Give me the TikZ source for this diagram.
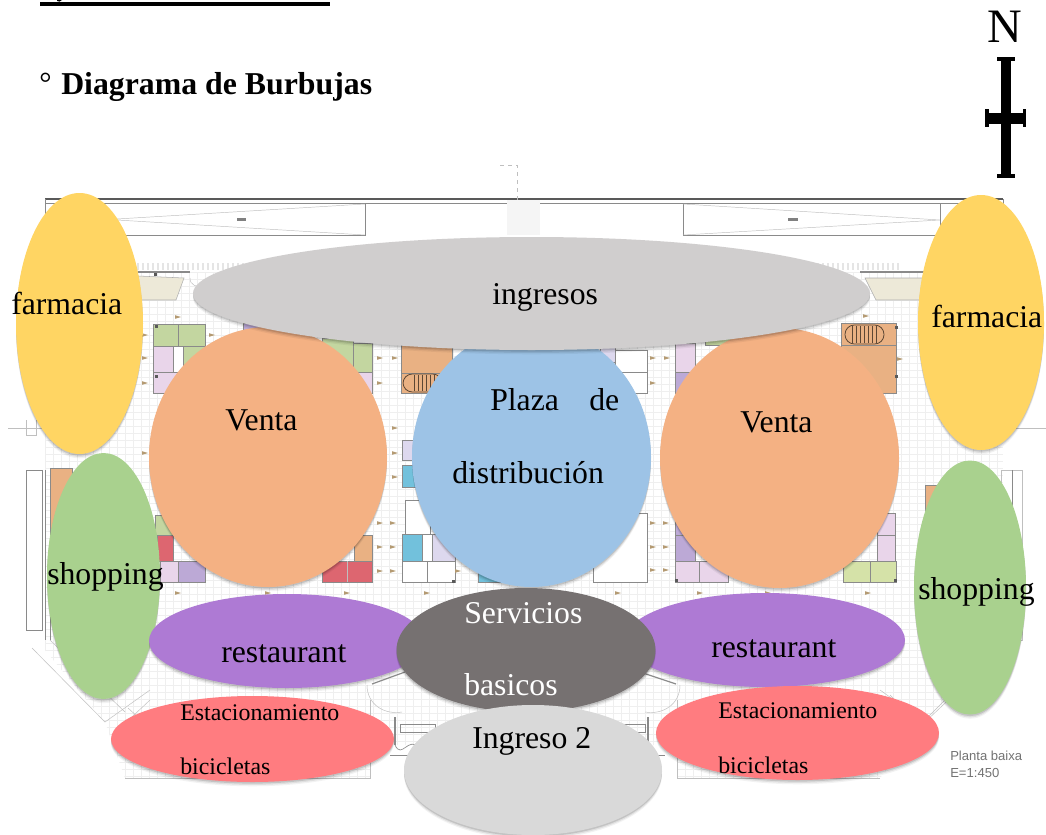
\documentclass[tikz,border=0pt]{standalone}
\usepackage{fontspec}
\setmainfont{Liberation Serif}
\newfontfamily\plansans{Liberation Sans}
\usetikzlibrary{shapes.geometric,shadows}
\definecolor{cYellow}{HTML}{FFD563}
\definecolor{cOrange}{HTML}{F4B183}
\definecolor{cBlue}{HTML}{9DC3E6}
\definecolor{cIngresos}{HTML}{D0CECE}
\definecolor{cGreen}{HTML}{A9D18E}
\definecolor{cPurple}{HTML}{AE7AD4}
\definecolor{cDark}{HTML}{767171}
\definecolor{cRed}{HTML}{FF7C80}
\definecolor{cLight}{HTML}{D9D9D9}
\definecolor{pGreen}{HTML}{C3D6A0}
\definecolor{pLime}{HTML}{D5E2A8}
\definecolor{pPink}{HTML}{E9D5EA}
\definecolor{pLilac}{HTML}{BCA9D6}
\definecolor{pPale}{HTML}{DDD8EE}
\definecolor{pRed}{HTML}{DD6670}
\definecolor{pOrange}{HTML}{E9B183}
\definecolor{pTeal}{HTML}{72C1DC}
\definecolor{pBeige}{HTML}{EDE9D8}
\definecolor{pWall}{HTML}{8A8A8A}
\definecolor{pGrid}{HTML}{EFEFEF}
\definecolor{pMark}{HTML}{B49A72}
\tikzset{
  x=0.75pt,y=-0.75pt,
  bubble/.style={ellipse,inner sep=0pt,draw=none,
    general shadow={shadow yshift=-3.2pt,fill=black,opacity=.05},
    general shadow={shadow yshift=-2.2pt,fill=black,opacity=.08},
    general shadow={shadow yshift=-1.2pt,fill=black,opacity=.12}},
  big/.style={anchor=base west,inner sep=0pt,font=\fontsize{23.8pt}{24pt}\selectfont},
  small/.style={anchor=base west,inner sep=0pt,font=\fontsize{17.9pt}{18pt}\selectfont},
  wall/.style={draw=pWall,line width=.5pt},
  fine/.style={draw=pWall!55,line width=.35pt},
  cell/.style={draw=pWall,line width=.6pt},
  planlabel/.style={anchor=base west,inner sep=0pt,text=black!55,font=\plansans\fontsize{9.8pt}{10pt}\selectfont}
}
\begin{document}
\begin{tikzpicture}
\useasboundingbox (0,0) rectangle (1046,835);
\clip (0,0) rectangle (1046,835);
\fill[white] (0,0) rectangle (1046,835);
% ---------- faint floor plan ----------
\begin{scope}
\clip (45,272) -- (1003,272) -- (1003,640) -- (925,722) -- (880,778) -- (677,778) -- (677,745) -- (370,745) -- (370,778) -- (125,778) -- (105,722) -- (45,650) -- cycle;
\foreach \gx in {45,53,...,1003} \draw[pGrid,line width=.25pt] (\gx,272) -- (\gx,778);
\foreach \gy in {272,279,...,778} \draw[pGrid,line width=.25pt] (45,\gy) -- (1003,\gy);
\end{scope}
% top wall and ramps
\draw[black!65,line width=.9pt] (45,199) -- (1003,199);
\draw[wall] (45,203) -- (1003,203);
\draw[wall] (45,199) -- (45,235) -- (365,235) -- (365,204);
\draw[fine] (365,204) -- (117,219) (117,220) -- (365,235);
\draw[wall] (683,203) -- (683,235) -- (1003,235) -- (1003,199);
\draw[wall] (940,204) -- (940,235);
\draw[fine] (683,204) -- (940,220) -- (683,235);
\fill[black!50] (237,217.5) rectangle (246,221);
\fill[black!50] (788,217.5) rectangle (798,221);
\draw[fine,dashed] (500,165) -- (517,165) -- (517,200);
\fill[black!4] (507,200) rectangle (540,235);
% fringe under the ramps
\foreach \fx in {138,143,...,900} \draw[black!10,line width=1.6pt] (\fx,263) -- (\fx,270);
\draw[wall,line width=.9pt] (138,272) -- (190,272) (860,272) -- (925,272);
% planters
\filldraw[fill=pBeige,draw=pWall!70,line width=.4pt] (138,276) -- (184,278) -- (176,300) -- (138,300) -- cycle;
\filldraw[fill=pBeige,draw=pWall!70,line width=.4pt] (865,278) -- (925,278) -- (925,300) -- (876,300) -- cycle;
\draw[fine] (190,278) .. controls (190,285) and (196,288) .. (205,285);
% rooms
\foreach \xa/\ya/\xb/\yb/\col in {
  153/324/178/346/pGreen,178/324/205/346/pGreen,153/346/173/372/pPink,173/346/183/372/white,183/346/205/372/pGreen,153/372/205/393/pPink,
  243/323/262/335/pLilac,322/338/353/372/pGreen,353/343/372/372/pGreen,353/372/372/393/pPink,
  401/345/452/373/pOrange,401/373/452/393/pOrange,
  600/345/615/362/pPale,615/350/647/372/white,615/372/647/393/white,
  675/343/695/372/pPink,675/372/695/393/pLilac,705/335/735/345/pGreen,
  841/323/896/345/pOrange,841/345/896/393/pOrange,
  50/468/72/530/pOrange,155/515/173/535/pGreen,157/535/173/561/pRed,160/561/178/582/pPink,178/561/205/582/pLilac,
  322/561/372/582/pRed,354/535/372/561/pOrange,
  402/440/418/460/pPale,402/465/418/487/pTeal,
  402/534/422/561/pTeal,422/534/432/561/white,432/534/455/561/pPale,405/500/430/534/white,402/561/427/582/white,427/561/455/582/white,478/572/500/582/pTeal,
  593/513/647/582/white,
  675/513/695/535/pLilac,675/535/695/561/pLilac,675/561/699/582/pPink,699/561/728/582/pPink,
  877/513/895/535/pPink,877/535/895/561/pPink,843/561/870/582/pLime,870/561/896/582/pLime,925/485/945/520/pOrange}
  {\filldraw[fill=\col,cell] (\xa,\ya) rectangle (\xb,\yb);}
\draw[fine] (347,561) -- (347,582);
% stairs
\draw[black!60!pOrange,line width=.6pt,rounded corners=7pt] (403,374) rectangle (442,392);
\foreach \sx in {414,418,...,434} \draw[black!60!pOrange,line width=.4pt] (\sx,375) -- (\sx,391);
\draw[black!60!pOrange,line width=.6pt,rounded corners=7pt] (845,325) rectangle (884,344);
\foreach \sx in {852,856,...,876} \draw[black!60!pOrange,line width=.4pt] (\sx,326) -- (\sx,343);
% side walls
\draw[wall] (26,470) rectangle (42,630);
\draw[wall] (45,470) -- (45,640);
\draw[fine] (26,420) -- (26,435) -- (36,435) -- (36,420);
\draw[fine] (8,428) -- (45,428);
\draw[fine] (1001,470) rectangle (1022,640);
\draw[fine] (1000,428) -- (1046,428);
\draw[wall] (1012,470) -- (1012,640);
\draw[wall] (50,468) -- (50,640);
% corners
\draw[fine] (32,648) -- (105,722) -- (150,690) (50,640) -- (125,712);
\draw[fine] (150,700) -- (118,730) (128,708) -- (150,728);
\draw[fine] (1012,640) -- (925,722) -- (880,690) (995,650) -- (915,730);
\draw[fine] (890,695) -- (930,735) (905,705) -- (880,735);
% lower frame
\draw[fine] (125,778) -- (370,778) -- (370,700);
\draw[fine] (677,700) -- (677,778) -- (880,778);
% door arcs and entry
\draw[fine] (367,685) .. controls (367,705) and (385,715) .. (402,712);
\draw[fine] (680,685) .. controls (680,705) and (662,715) .. (645,712);
\draw[wall,line width=.9pt] (372,684) -- (405,672) (640,672) -- (676,684);
\draw[wall,line width=1pt] (395,717) -- (395,745) (648,717) -- (648,745);
\draw[wall] (400,724) rectangle (435,732) (610,724) rectangle (645,732);
\draw[wall] (395,745) .. controls (402,760) and (408,735) .. (420,748);
\draw[wall] (390,755) -- (430,755) (620,755) -- (665,755);
% small tan marks
\foreach \mx/\my in {178/593,268/593,347/593,427/593,618/593,700/593,768/593,868/593,
  145/335,145/358,145/383,145/453,212/335,395/428,395/453,395/477,380/523,393/523,380/547,393/547,380/571,393/571,
  380/358,395/358,380/383,653/358,667/358,653/383,653/523,666/523,653/547,666/547,666/570,653/570,
  458/571,900/359,178/317,866/316}
  {\fill[pMark] (\mx-3,\my-1.8) -- (\mx+3,\my) -- (\mx-3,\my+1.8) -- cycle;}
\foreach \dx/\dy in {154/273,155/325,155/375,895/326,895/375,495/594,452/580,675/579,894/579}
  {\fill[black!65] (\dx,\dy) rectangle ++(3,3);}
% plan legend
\node[planlabel] (leg1) at (950,760) {Planta baixa};
\node[planlabel] (leg2) at (950,777) {E=1:450};
% ---------- heading ----------
\fill[black] (40,2) rectangle (330,6);
\fill[black] (57,0) -- (62,0) .. controls (61,2) and (58,2) .. (57,1) -- cycle;
\node[anchor=base west,inner sep=0pt,font=\fontsize{23pt}{24pt}\selectfont] (deg) at (39,93.5) {°};
\node[anchor=base west,inner sep=0pt,font=\bfseries\fontsize{23.85pt}{24pt}\selectfont] (title) at (61,94) {Diagrama de Burbujas};
% north sign
\node[anchor=base,inner sep=0pt,font=\fontsize{36pt}{38pt}\selectfont] (north) at (1004.5,42) {N};
\fill[black] (1000.5,57) rectangle (1011,178);
\fill[black] (997,57) rectangle (1015,61);
\fill[black] (997,174) rectangle (1015,178);
\fill[black] (985,113) rectangle (1026,124);
\fill[black] (985,109) rectangle (988.5,127);
\fill[black] (1022.5,109) rectangle (1026,127);
% ---------- bubbles ----------
\node[bubble,fill=cYellow,minimum width=95.25pt,minimum height=195.75pt] (farmL) at (79.5,323.5) {};
\node[bubble,fill=cYellow,minimum width=94.5pt,minimum height=191.25pt] (farmR) at (981,322.5) {};
\node[bubble,fill=cGreen,minimum width=84.75pt,minimum height=184.5pt] (shopL) at (103.5,576) {};
\node[bubble,fill=cGreen,minimum width=84pt,minimum height=190.5pt] (shopR) at (970,587.5) {};
\node[bubble,fill=cOrange,minimum width=178.5pt,minimum height=195pt] (ventaL) at (268,457) {};
\node[bubble,fill=cOrange,minimum width=179.25pt,minimum height=195pt] (ventaR) at (779.5,458) {};
\node[bubble,fill=cBlue,minimum width=179.25pt,minimum height=195pt] (plaza) at (531.5,457) {};
\node[bubble,fill=cIngresos,minimum width=507.75pt,minimum height=84.75pt] (ingresos) at (531.5,293.5) {};
\node[bubble,fill=cPurple,minimum width=207pt,minimum height=70.5pt] (restL) at (287,641) {};
\node[bubble,fill=cPurple,minimum width=210pt,minimum height=70.5pt] (restR) at (765,640) {};
\node[bubble,fill=cRed,minimum width=212.25pt,minimum height=64.5pt] (estL) at (252.5,739) {};
\node[bubble,fill=cRed,minimum width=212.25pt,minimum height=70.5pt] (estR) at (797.5,733) {};
\node[bubble,fill=cDark,minimum width=194.25pt,minimum height=93pt] (serv) at (526,650) {};
\node[bubble,fill=cLight,minimum width=193.5pt,minimum height=97.5pt] (ing2) at (533,770) {};
% ---------- labels ----------
\node[big] (tIngresos) at (492,304) {ingresos};
\node[big] (tFarmL) at (11,314) {farmacia};
\node[big] (tFarmR) at (931,327) {farmacia};
\node[big] (tVentaL) at (225,430) {Venta};
\node[big] (tVentaR) at (740,432) {Venta};
\node[big] (tPlaza) at (490,410) {Plaza};
\node[big] (tDe) at (589,410) {de};
\node[big] (tDist) at (452,483) {distribución};
\node[big] (tShopL) at (47,584) {shopping};
\node[big] (tShopR) at (918,599) {shopping};
\node[big] (tRestL) at (221,662) {restaurant};
\node[big] (tRestR) at (711,657) {restaurant};
\node[big,text=white] (tServ) at (464,623) {Servicios};
\node[big,text=white] (tBas) at (464,695) {basicos};
\node[big] (tIng2) at (472,748) {Ingreso 2};
\node[small] (tEstL) at (180,720) {Estacionamiento};
\node[small] (tBicL) at (180,774) {bicicletas};
\node[small] (tEstR) at (718,718) {Estacionamiento};
\node[small] (tBicR) at (718,773) {bicicletas};
\end{tikzpicture}
\end{document}
